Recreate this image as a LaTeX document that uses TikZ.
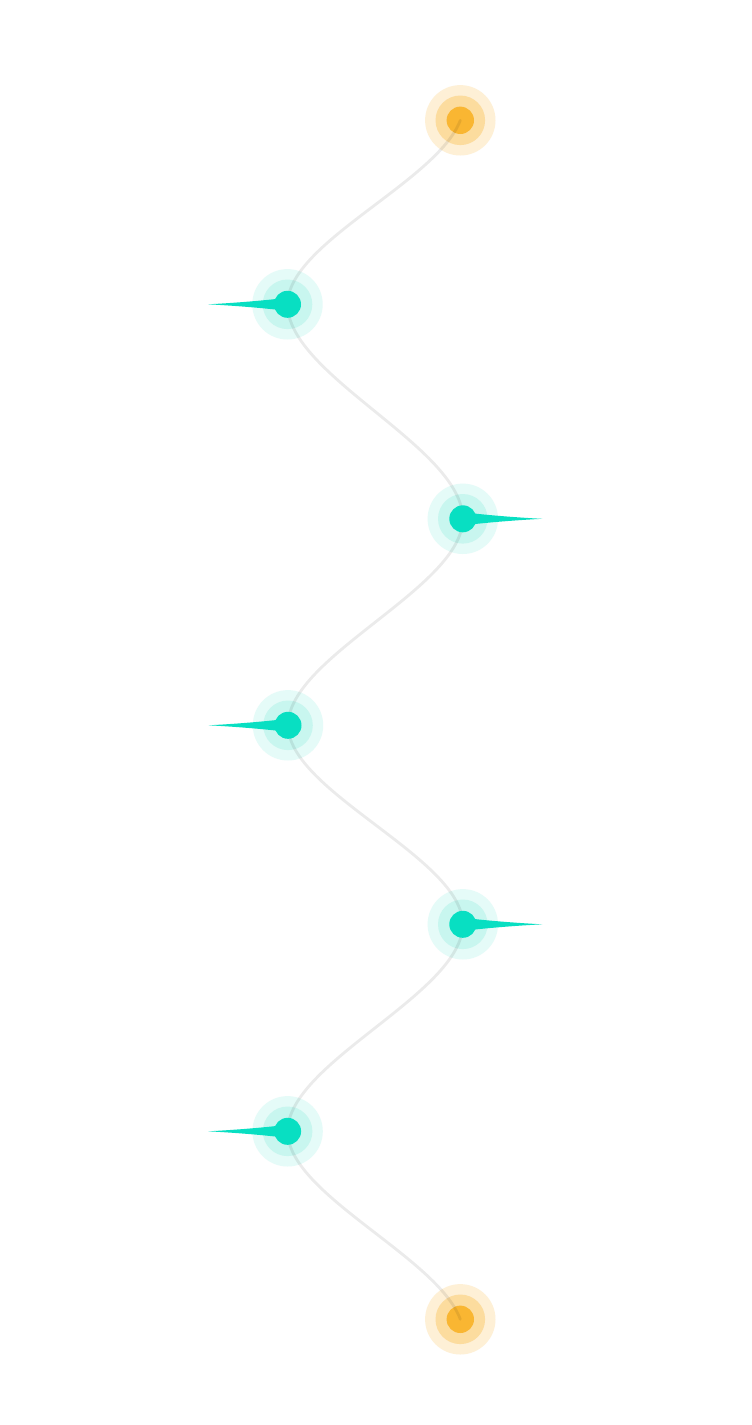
\documentclass[tikz,border=0pt]{standalone}
\definecolor{tealc}{HTML}{08DFC2}
\definecolor{tealmid}{HTML}{C8F6EF}
\definecolor{tealout}{HTML}{E5FBF8}
\definecolor{orc}{HTML}{F9B632}
\definecolor{ormid}{HTML}{FCDC9E}
\definecolor{orout}{HTML}{FEF0D6}
\tikzset{
  tealdot/.style={circle, fill=tealc, draw=none, inner sep=0pt, minimum size=27pt},
  ordot/.style={circle, fill=orc, draw=none, inner sep=0pt, minimum size=27.4pt},
  link/.style={draw=black, draw opacity=0.08, line width=2.8pt, line cap=round},
  needle/.style={fill=tealc, draw=none}
}
\newcommand{\halo}[3]{%
  \fill[#2] (#1) circle[radius=35.2pt];
  \fill[#3] (#1) circle[radius=24.8pt];
}
\begin{document}
\begin{tikzpicture}[x=1pt,y=-1pt]
\useasboundingbox[fill=white] (0,0) rectangle (752,1425);
% centres
\coordinate (p0) at (460.3,120.3);
\coordinate (p1) at (287.5,304.3);
\coordinate (p2) at (462.8,518.8);
\coordinate (p3) at (288.0,725.3);
\coordinate (p4) at (462.8,924.3);
\coordinate (p5) at (287.6,1131.3);
\coordinate (p6) at (460.3,1319.3);
% halos
\halo{p0}{orout}{ormid}
\halo{p6}{orout}{ormid}
\foreach \i in {1,...,5}{\halo{p\i}{tealout}{tealmid}}
% orange cores
\node[ordot] (s0) at (p0) {};
\node[ordot] (s6) at (p6) {};
% connector (smooth spline through the nodes)
\path[link]
  (s0.center) .. controls (437.26,181.63) and (287.5,242.97) .. (p1)
  .. controls (287.5,375.8) and (462.8,447.3) .. (p2)
  .. controls (462.8,587.63) and (288.0,656.47) .. (p3)
  .. controls (288.0,791.63) and (462.8,857.97) .. (p4)
  .. controls (462.8,993.3) and (287.6,1062.3) .. (p5)
  .. controls (287.6,1193.97) and (437.28,1256.63) .. (s6.center);
% needles
\foreach \i/\d in {1/-1,2/1,3/-1,4/1,5/-1}{
  \fill[needle,shift={(p\i)},xscale=\d]
    (0,-6.6) .. controls (30,-3) and (60,-1) .. (79.5,0)
    .. controls (60,1) and (30,3) .. (0,6.6) -- cycle;
}
% teal cores
\foreach \i in {1,...,5}{\node[tealdot] (s\i) at (p\i) {};}
\end{tikzpicture}
\end{document}
